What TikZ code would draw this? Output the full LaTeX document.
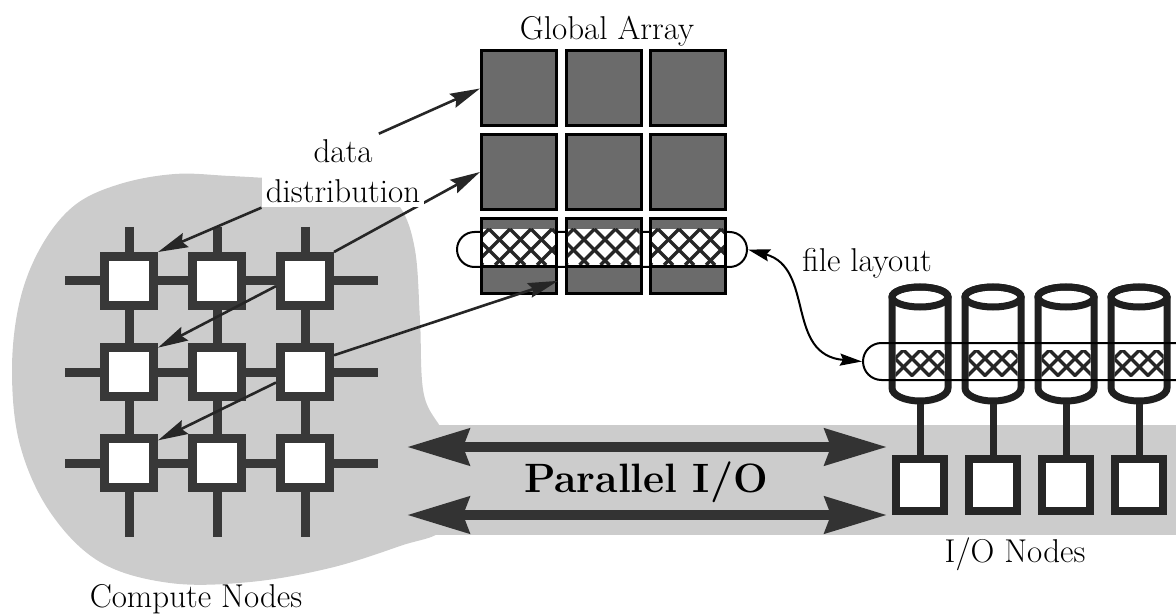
\documentclass[tikz,border=0pt]{standalone}
\usetikzlibrary{arrows.meta,calc,shapes.misc}
\pgfdeclarelayer{bg}
\pgfdeclarelayer{mid}
\pgfsetlayers{bg,mid,main}
\definecolor{blobgray}{gray}{0.80}
\definecolor{cellgray}{gray}{0.42}
\definecolor{ink}{gray}{0.22}

% cross-hatched strip: left, top, right, bottom, period
\newcommand\xhatch[5]{%
  \begin{scope}
    \clip (#1,#2) rectangle (#3,#4);
    \fill[white] (#1,#2) rectangle (#3,#4);
    \pgfmathsetmacro\hh{#4-#2}
    \foreach \k in {0,...,16}{
      \pgfmathsetmacro\xs{#1-\hh+\k*#5}
      \draw[hatchline] (\xs,#2) -- ++(\hh,\hh);
      \draw[hatchline] (\xs,#2) -- ++(-\hh,\hh);
    }
  \end{scope}}

\tikzset{
  lbl/.style={font=\fontsize{16.5}{20}\selectfont, inner sep=0pt},
  cnode/.style={draw=ink, line width=4.5pt, fill=white, minimum size=24.5pt, inner sep=0pt},
  mesh/.style={draw=ink, line width=4.5pt},
  gcell/.style={draw=black, line width=1.5pt, fill=cellgray, minimum size=37.5pt, inner sep=0pt},
  ionode/.style={draw=black!85, line width=4pt, fill=white, minimum width=24pt, minimum height=26pt, inner sep=0pt},
  ioline/.style={draw=black!85, line width=3.5pt},
  disk/.style={draw=black!88, line width=3.5pt},
  dist/.style={line width=1.3pt, draw=black!85, -{Stealth[length=15pt,width=7.5pt,inset=2pt]}},
  pio/.style={line width=5pt, draw=black!80, {Stealth[length=31pt,width=18pt,inset=3pt]}-{Stealth[length=31pt,width=18pt,inset=3pt]}},
  flay/.style={line width=1pt, draw=black, {Stealth[length=11pt,width=6pt,inset=1.5pt]}-{Stealth[length=11pt,width=6pt,inset=1.5pt]}},
  capsule/.style={rounded rectangle, draw=black, line width=1pt, inner sep=0pt},
  hatchline/.style={line width=1.7pt, draw=black!85},
}

\begin{document}
\begin{tikzpicture}[x=0.5pt,y=-0.5pt]
\useasboundingbox (0,0) rectangle (1176,614);
\clip (0,0) rectangle (1176,614);

% ---------- compute nodes ----------
\foreach \r/\y in {1/281,2/372,3/463}
  \foreach \c/\x in {1/129,2/217,3/305}
    \node[cnode] (c\r\c) at (\x,\y) {};

\begin{pgfonlayer}{bg}
  % shaded region of the compute partition and the I/O band
  \fill[blobgray] plot[smooth cycle, tension=0.6] coordinates {
    (230,176) (300,180) (370,184) (400,207) (415,250) (420,320) (424,395)
    (445,436) (455,480) (445,528) (400,546) (330,568) (250,582) (170,583)
    (100,562) (50,512) (20,445) (12,370) (20,300) (42,245) (75,205)
    (120,184) (175,174)};
  \fill[blobgray] (420,425) rectangle (1176,535);
\end{pgfonlayer}

\begin{pgfonlayer}{mid}
  \foreach \r in {1,2,3}
    \draw[mesh] ($(c\r1.west)+(-35,0)$) -- ($(c\r3.east)+(44,0)$);
  \foreach \c in {1,2,3}
    \draw[mesh] ($(c1\c.north)+(0,-25)$) -- ($(c3\c.south)+(0,45)$);
\end{pgfonlayer}

% ---------- global array ----------
\node[capsule, minimum width=145pt, minimum height=17.5pt] (gcap) at (602,249.5) {};
\foreach \r/\y in {1/88.5,2/172,3/256.5}
  \foreach \c/\x in {1/519,2/603.5,3/688}
    \node[gcell] (g\r\c) at (\x,\y) {};
\foreach \x in {519,603.5,688}{
  \xhatch{\x-36}{229}{\x+36}{265}{21}
  \draw[line width=1.5pt] (\x-36,266.5) -- (\x+36,266.5);
}
\node[lbl, anchor=base] (gtitle) at (607,40) {Global Array};

% ---------- disks and I/O nodes ----------
\foreach \i/\x in {1/920,2/993,3/1066,4/1139}{
  \node[minimum width=31.5pt, minimum height=60pt, inner sep=0pt, outer sep=0pt] (d\i) at (\x,344) {};
  \draw[disk, fill=white] (\x-28,297) -- (\x-28,388)
    arc[start angle=180, end angle=360, x radius=14pt, y radius=6.5pt]
    -- (\x+28,297)
    arc[start angle=0, end angle=180, x radius=14pt, y radius=5pt] -- cycle;
  \xhatch{\x-24.5}{350}{\x+24.5}{376}{17}
  \draw[disk] (\x,297) ellipse[x radius=14pt, y radius=5pt];
  \node[ionode] (io\i) at (\x,485) {};
  \draw[ioline] (d\i.south) -- (io\i.north);
}
\node[capsule, minimum width=168.5pt, minimum height=18.5pt] (dcap) at (1031.5,361.5) {};
\node[lbl, anchor=base] (iolabel) at (1015,562) {I/O Nodes};

% ---------- parallel I/O ----------
\coordinate (pl1) at (407,447);
\coordinate (pr1) at (887,447);
\coordinate (pl2) at (407,515);
\coordinate (pr2) at (887,515);
\draw[pio] (pl1) -- (pr1);
\draw[pio] (pl2) -- (pr2);
\node[font=\bfseries\fontsize{20.5}{24}\selectfont, anchor=base, inner sep=0pt] (ptitle) at (646,492) {Parallel I/O};

% ---------- data distribution ----------
\node[lbl, anchor=base, inner sep=3pt] (dd1) at (343,163) {data};
\begin{pgfonlayer}{mid}
  \draw[dist] (c13.north east) -- (g21.west);
\end{pgfonlayer}
\node[lbl, anchor=base, inner sep=2pt, fill=white] (dd2) at (343,203) {distribution};
\draw[dist] (dd1.north east) -- (g11.west);
\draw[dist] (dd2.south west) -- (c11.north east);
\draw[dist] (c13.190) -- (c21.40);
\draw[dist] (c23.30) -- (g31.-32);
\draw[dist] (c23.200) -- (c31.38);

% ---------- file layout ----------
\draw[flay] (gcap.east) .. controls (815,268) and (785,355) .. (dcap.west);
\node[lbl, anchor=base] (flabel) at (867,272) {file layout};

\node[lbl, anchor=base] (clabel) at (196,607) {Compute Nodes};
\end{tikzpicture}
\end{document}
